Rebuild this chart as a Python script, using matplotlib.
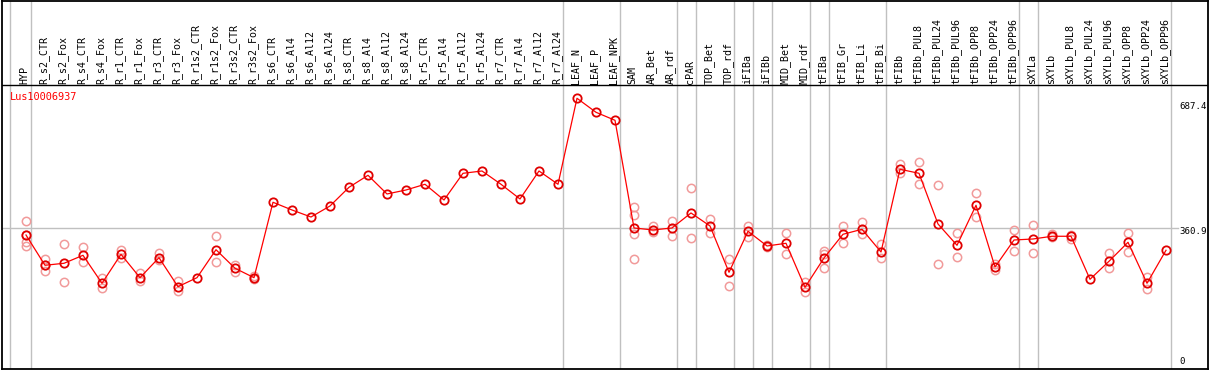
import matplotlib
matplotlib.use('Agg')
import matplotlib.pyplot as plt
import numpy as np

# Probenbezeichnungen (x-Achse, oben rotiert)
samples = [
    "HYP", "R_s2_CTR", "R_s2_Fox", "R_s4_CTR", "R_s4_Fox", "R_r1_CTR", "R_r1_Fox",
    "R_r3_CTR", "R_r3_Fox", "R_r1s2_CTR", "R_r1s2_Fox", "R_r3s2_CTR", "R_r3s2_Fox",
    "R_s6_CTR", "R_s6_Al4", "R_s6_Al12", "R_s6_Al24", "R_s8_CTR", "R_s8_Al4",
    "R_s8_Al12", "R_s8_Al24", "R_r5_CTR", "R_r5_Al4", "R_r5_Al12", "R_r5_Al24",
    "R_r7_CTR", "R_r7_Al4", "R_r7_Al12", "R_r7_Al24", "LEAF_N", "LEAF_P", "LEAF_NPK",
    "SAM", "AR_Bet", "AR_rdf", "cPAR", "TOP_Bet", "TOP_rdf", "iFIBa", "iFIBb",
    "MID_Bet", "MID_rdf", "tFIBa", "tFIB_Gr", "tFIB_Li", "tFIB_Bi", "tFIBb",
    "tFIBb_PUL8", "tFIBb_PUL24", "tFIBb_PUL96", "tFIBb_OPP8", "tFIBb_OPP24",
    "tFIBb_OPP96", "sXYLa", "sXYLb", "sXYLb_PUL8", "sXYLb_PUL24", "sXYLb_PUL96",
    "sXYLb_OPP8", "sXYLb_OPP24", "sXYLb_OPP96",
]

# Mittelwerte (rote Linie)
means = [
    343.4, 264.5, 269.7, 290.5, 217.6, 293.1, 232.2, 284.3, 208.7, 232.2, 305.1,
    256.7, 232.2, 428.7, 408.6, 390.3, 419.0, 467.7, 499.0, 450.3, 460.7, 475.6,
    434.6, 504.2, 510.2, 475.6, 437.3, 510.2, 475.6, 699.7, 663.2, 642.3, 361.7,
    356.5, 361.7, 400.8, 366.9, 246.2, 353.1, 314.8, 321.8, 207.1, 283.5, 345.3,
    358.3, 299.1, 514.7, 504.2, 372.1, 316.6, 420.8, 260.0, 330.4, 333.0, 340.1,
    340.1, 228.0, 274.9, 324.4, 217.6, 303.6,
]

# Einzelne Replikate (blasse Kreise)
replicates = {
    "HYP": [380.7, 343.4, 326.0, 314.8],
    "R_s2_CTR": [280.1, 264.5, 250.4],
    "R_s2_Fox": [319.2, 220.2],
    "R_s4_CTR": [311.4, 272.3],
    "R_s4_Fox": [232.2, 205.3],
    "R_r1_CTR": [304.4, 282.7],
    "R_r1_Fox": [245.2, 223.6],
    "R_r3_CTR": [295.7, 278.3],
    "R_r3_Fox": [224.3, 198.3],
    "R_r1s2_Fox": [340.1, 272.3],
    "R_r3s2_CTR": [265.3, 247.8],
    "R_r3s2_Fox": [236.6, 229.6],
    "SAM": [416.4, 396.3, 345.3, 280.1],
    "AR_Bet": [366.9, 351.3],
    "AR_rdf": [379.9, 340.1],
    "cPAR": [465.9, 334.8],
    "TOP_Bet": [385.1, 349.4],
    "TOP_rdf": [280.1, 209.8],
    "iFIBa": [367.7, 339.0],
    "iFIBb": [316.6, 313.2],
    "MID_Bet": [347.9, 293.9],
    "MID_rdf": [221.0, 194.9],
    "tFIBa": [302.5, 293.9, 256.7],
    "tFIB_Gr": [366.9, 323.4],
    "tFIB_Li": [378.1, 346.0],
    "tFIB_Bi": [319.2, 282.7],
    "tFIBb": [527.7, 504.2],
    "tFIBb_PUL8": [532.9, 476.3],
    "tFIBb_PUL24": [473.0, 267.1],
    "tFIBb_PUL96": [347.9, 285.3],
    "tFIBb_OPP8": [452.1, 389.6],
    "tFIBb_OPP24": [267.9, 252.2],
    "tFIBb_OPP96": [355.7, 301.0],
    "sXYLa": [368.7, 295.7],
    "sXYLb": [346.0, 337.4],
    "sXYLb_PUL8": [342.7, 333.0],
    "sXYLb_PUL96": [295.7, 256.7],
    "sXYLb_OPP8": [347.9, 299.1],
    "sXYLb_OPP24": [234.8, 203.5],
}

# Gruppengroessen (graue Trennlinien)
group_sizes = [1, 28, 3, 3, 1, 2, 1, 1, 2, 1, 3, 7, 1, 7]

gene_id = "Lus10006937"
axis_labels = [687.4, 360.9, 0]
ref_value = 360.9

W, H = 1209, 370
fig = plt.figure(figsize=(W / 100, H / 100), dpi=100)
ax = fig.add_axes([1.5 / W, 1 / H, 1206 / W, 368.5 / H])

x = np.arange(len(samples))
ax.set_xlim(-1.289, 62.184)
ax.set_ylim(-5.8, 954.5)
ax.set_xticks([])
ax.set_yticks([])
for sp in ax.spines.values():
    sp.set_linewidth(1.3)
    sp.set_color('black')

sep_y = 733.6  # Trennlinie zwischen Beschriftung und Plot
ax.axhline(sep_y, color='black', lw=1.0, zorder=3)

# Graue Gruppentrennlinien
ax.axvline(-0.83, color='#c0c0c0', lw=1.0, zorder=1)
end = -1
for g in group_sizes:
    end += g
    ax.axvline(end + 0.25, color='#c0c0c0', lw=1.0, zorder=1)

# Referenzlinie
ax.plot([-1.289, 60.63], [ref_value, ref_value], color='#c0c0c0', lw=1.0, zorder=1)

# Replikate
for name, vals in replicates.items():
    i = samples.index(name)
    ax.plot([i] * len(vals), vals, linestyle='none', marker='o', ms=6,
            mfc='none', mec='#f19a9a', mew=1.1, zorder=2)

# Mittelwerte
ax.plot(x, means, color='red', lw=0.9, marker='o', ms=6, mfc='none',
        mec='#e00000', mew=1.3, zorder=4)

mono = 'DejaVu Sans Mono'
for i, s in enumerate(samples):
    ax.text(i - 0.06, sep_y + 3, s, rotation=90, ha='center', va='bottom',
            fontsize=7.2, family=mono, color='black')

ax.text(8.5 / 1206, 0.7373, gene_id, transform=ax.transAxes, ha='left', va='center',
        fontsize=7.4, family=mono, color='red')

# Achsenbeschriftung rechts (ragt wie im Original bis an den Rand)
for v in axis_labels:
    if v == 0:
        ax.text(60.68, v + 2, "0", ha='left', va='bottom', fontsize=6.6, family=mono)
    else:
        ax.text(60.68, v + 3, f"{v}", ha='left', va='top', fontsize=6.6, family=mono)

fig.savefig('out.png', dpi=100)
